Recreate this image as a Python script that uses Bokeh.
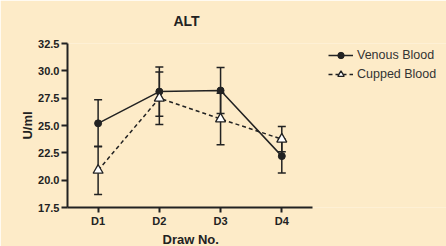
from bokeh.plotting import figure
from bokeh.models import (ColumnDataSource, Whisker, TeeHead, Legend, LegendItem, FixedTicker,
                          Range1d, Title)
from bokeh.embed import file_html
from bokeh.resources import INLINE

BG = "#FDEBC8"
INK = "#222222"

draws = ["D1", "D2", "D3", "D4"]
xpos = [1, 2, 3, 4]
venous = [25.2, 28.1, 28.2, 22.2]
venous_err = [2.15, 2.25, 2.1, 1.55]
cupped = [20.9, 27.5, 25.6, 23.75]
cupped_err = [2.2, 2.4, 2.35, 1.15]
yticks = [17.5, 20.0, 22.5, 25.0, 27.5, 30.0, 32.5]

# plot frame spans the full width so the legend (to the right of the axes) is not clipped;
# the x axis itself is limited to 0.5..4.5 with axis bounds
p = figure(width=446, height=246, output_backend="svg", toolbar_location=None,
           x_range=Range1d(0.5, 6.69), y_range=Range1d(17.5, 32.5),
           min_border_left=67, min_border_right=0, min_border_top=43, min_border_bottom=39,
           background_fill_color=BG, border_fill_color=BG)
p.outline_line_color = None
p.grid.visible = False

p.title.text = "ALT"
p.title.align = "left"
p.title.offset = 106
p.title.standoff = 25
p.title.vertical_align = "top"
p.title.text_font = "Liberation Sans"
p.title.text_font_size = "14px"
p.title.text_font_style = "bold"
p.title.text_color = INK

src_v = ColumnDataSource(dict(x=xpos, y=venous,
                              up=[a + b for a, b in zip(venous, venous_err)],
                              lo=[a - b for a, b in zip(venous, venous_err)]))
src_c = ColumnDataSource(dict(x=xpos, y=cupped,
                              up=[a + b for a, b in zip(cupped, cupped_err)],
                              lo=[a - b for a, b in zip(cupped, cupped_err)]))

for src in (src_v, src_c):
    w = Whisker(source=src, base="x", upper="up", lower="lo", dimension="height",
                line_color=INK, line_width=1.5,
                upper_head=TeeHead(size=8, line_color=INK, line_width=1.5),
                lower_head=TeeHead(size=8, line_color=INK, line_width=1.5))
    p.add_layout(w)

lv = p.line("x", "y", source=src_v, line_color=INK, line_width=1.5)
sv = p.scatter("x", "y", source=src_v, marker="circle", size=7, fill_color=INK, line_color=INK)
lc = p.line("x", "y", source=src_c, line_color=INK, line_width=1.5, line_dash="4 3")
sc = p.scatter("x", "y", source=src_c, marker="triangle", size=10, fill_color="white",
               line_color=INK, line_width=1.3)

legend = Legend(items=[LegendItem(label="Venous Blood", renderers=[lv, sv]),
                       LegendItem(label="Cupped Blood", renderers=[lc, sc])],
                location=(261, 125), padding=0, margin=0, spacing=3,
                glyph_width=25, glyph_height=16, label_standoff=4,
                label_text_font="Liberation Sans", label_text_font_size="12.5px",
                label_text_color="#333333",
                background_fill_alpha=0, border_line_alpha=0)
p.add_layout(legend)

for ax in (p.xaxis[0], p.yaxis[0]):
    ax.axis_line_color = INK
    ax.axis_line_width = 2
    ax.major_tick_line_color = INK
    ax.major_tick_line_width = 2
    ax.minor_tick_line_color = None
    ax.major_tick_in = 0
    ax.major_label_text_font = "Liberation Sans"
    ax.major_label_text_font_style = "bold"
    ax.major_label_text_font_size = "11px"
    ax.major_label_text_color = INK
    ax.axis_label_text_font = "Liberation Sans"
    ax.axis_label_text_font_style = "bold"
    ax.axis_label_text_font_size = "13px"
    ax.axis_label_text_color = INK

p.yaxis.ticker = FixedTicker(ticks=yticks)
p.yaxis.major_label_overrides = {t: f"{t:.1f}" for t in yticks}
p.yaxis.major_tick_out = 6
p.yaxis.major_label_standoff = 2
p.yaxis.axis_label = "U/ml"
p.yaxis.axis_label_standoff = 0

p.xaxis.bounds = (0.5, 4.5)
p.xaxis.ticker = FixedTicker(ticks=xpos)
p.xaxis.major_label_overrides = {x: d for x, d in zip(xpos, draws)}
p.xaxis.major_tick_out = 5
p.xaxis.major_label_standoff = 2

# x axis title, centred under the axis (not under the wider frame)
xtitle = Title(text="Draw No.", align="left", offset=95, standoff=0,
               text_font="Liberation Sans", text_font_size="13px", text_font_style="bold",
               text_color=INK)
p.add_layout(xtitle, "below")

html = file_html(p, INLINE)
html = html.replace("<body>", f'<body style="background:{BG};">', 1)
open("out.html", "w").write(html)
